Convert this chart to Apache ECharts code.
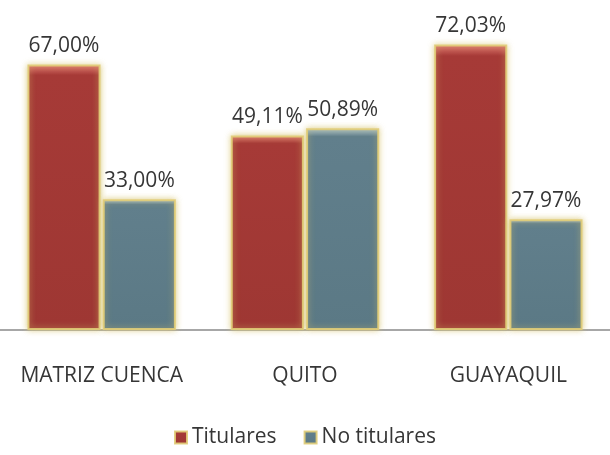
<!DOCTYPE html>
<html>
<head>
<meta charset="utf-8">
<script src="https://cdn.jsdelivr.net/npm/echarts@6/dist/echarts.min.js"></script>
<style>
  html, body { margin: 0; padding: 0; background: #fff; }
  #chart { width: 610px; height: 455px; }
</style>
</head>
<body>
<div id="chart"></div>
<script>
var categories = ['MATRIZ CUENCA', 'QUITO', 'GUAYAQUIL']
var titulares = [67.00, 49.11, 72.03]
var noTitulares = [33.00, 50.89, 27.97]

var font = '"Open Sans", sans-serif'

function pct(p) {
  return p.value.toFixed(2).replace('.', ',') + '%'
}

function barStyle(top, mid, bottom) {
  return {
    color: {
      type: 'linear', x: 0, y: 0, x2: 0, y2: 1,
      colorStops: [
        { offset: 0, color: top },
        { offset: 0.04, color: mid },
        { offset: 1, color: bottom }
      ]
    },
    borderColor: 'rgba(225,205,120,0.9)',
    borderWidth: 2,
    shadowColor: 'rgba(215,195,110,0.8)',
    shadowBlur: 6
  }
}

var labelStyle = {
  show: true,
  position: 'top',
  distance: 8,
  formatter: pct,
  fontFamily: font,
  fontSize: 21,
  color: '#363636'
}

var chart = echarts.init(document.getElementById('chart'))
chart.setOption({
  animation: false,
  grid: { left: -1, width: 617, top: 13, bottom: 125 },
  legend: {
    bottom: 2,
    left: 'center',
    itemWidth: 12,
    itemHeight: 12,
    itemGap: 27,
    icon: 'rect',
    textStyle: { fontFamily: font, fontSize: 21, color: '#363636' },
    data: ['Titulares', 'No titulares']
  },
  xAxis: {
    type: 'category',
    data: categories,
    axisLine: { lineStyle: { color: '#8a8a8a', width: 1.5 } },
    axisTick: { show: false },
    axisLabel: {
      interval: 0,
      hideOverlap: false,
      margin: 36,
      fontFamily: font,
      fontSize: 21,
      color: '#363636'
    }
  },
  yAxis: {
    type: 'value',
    min: 0,
    max: 80,
    show: false
  },
  series: [{
    name: 'Titulares',
    type: 'bar',
    data: titulares,
    barGap: '3%',
    barCategoryGap: '27%',
    itemStyle: barStyle('#e07570', '#a63a37', '#9e3733'),
    label: labelStyle
  }, {
    name: 'No titulares',
    type: 'bar',
    data: noTitulares,
    itemStyle: barStyle('#a9c3d1', '#617f8c', '#5b7985'),
    label: labelStyle
  }]
})
</script>
</body>
</html>
